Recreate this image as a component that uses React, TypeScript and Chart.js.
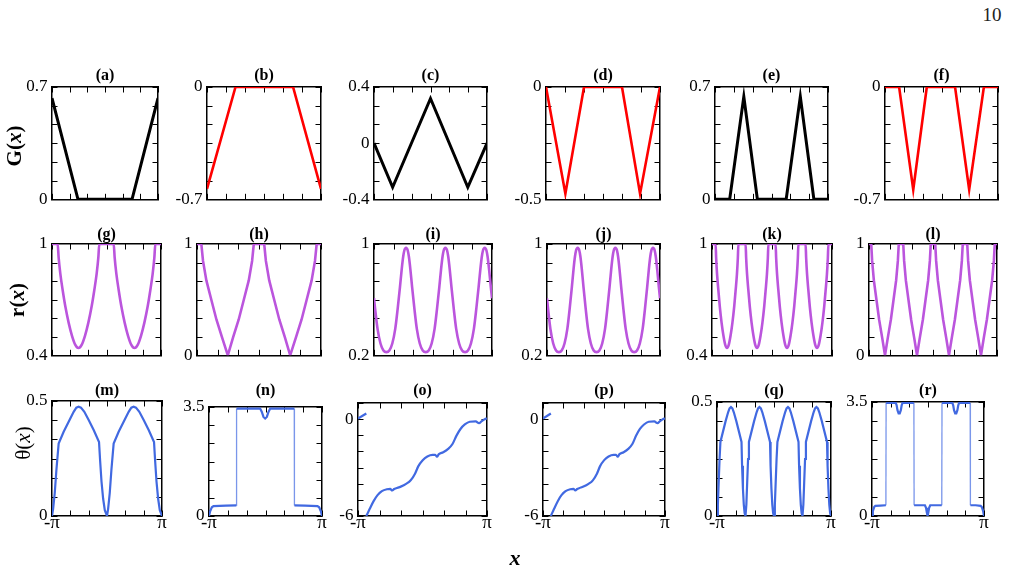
import React, { useEffect, useRef } from 'react';
import { Chart, registerables } from 'chart.js';

Chart.register(...registerables);

// ---------------- data (x in units of pi) ----------------
const xTickVals = [-1, -2 / 3, -1 / 3, 0, 1 / 3, 2 / 3, 1];
const xTickLabels = ['-π', '', '', '', '', '', 'π'];

const aX = [-1, -0.51, 0.51, 1];
const aY = [0.63, 0, 0, 0.63];
const bX = [-1, -0.5, 0.51, 1];
const bY = [-0.635, 0, 0, -0.635];
const cX = [-1, -0.67, 0, 0.66, 1];
const cY = [0, -0.314, 0.318, -0.314, 0];
const dX = [-1, -0.66, -0.333, 0.333, 0.65, 1];
const dY = [0, -0.475, 0, 0, -0.475, 0];
const eX = [-1, -0.74, -0.49, -0.25, 0.26, 0.51, 0.75, 1];
const eY = [0, 0, 0.64, 0, 0, 0.64, 0, 0];
const fX = [-1, -0.75, -0.5, -0.26, 0.24, 0.49, 0.75, 1];
const fY = [0, 0, -0.64, 0, 0, -0.64, 0, 0];

const gX = [-1, -0.896, -0.878, -0.847, -0.804, -0.755, -0.694, -0.633, -0.572, -0.514, -0.456, -0.395, -0.334, -0.273, -0.224, -0.181, -0.15, -0.132,
  0.132, 0.15, 0.181, 0.224, 0.273, 0.334, 0.395, 0.456, 0.514, 0.572, 0.633, 0.694, 0.755, 0.804, 0.847, 0.878, 0.896, 1];
const gY = [1, 1, 0.926, 0.839, 0.751, 0.663, 0.575, 0.505, 0.456, 0.439, 0.456, 0.505, 0.575, 0.663, 0.751, 0.839, 0.926, 1,
  1, 0.926, 0.839, 0.751, 0.663, 0.575, 0.505, 0.456, 0.439, 0.456, 0.505, 0.575, 0.663, 0.751, 0.839, 0.926, 1, 1];

const hX = [-1, -0.93, -0.903, -0.849, -0.768, -0.687, -0.596, -0.503, -0.418, -0.327, -0.246, -0.165, -0.111, -0.084,
  0.084, 0.111, 0.165, 0.246, 0.327, 0.418, 0.503, 0.596, 0.687, 0.768, 0.849, 0.903, 0.93, 1];
const hY = [1, 1, 0.848, 0.673, 0.497, 0.322, 0.161, 0, 0.161, 0.322, 0.497, 0.673, 0.848, 1,
  1, 0.848, 0.673, 0.497, 0.322, 0.161, 0, 0.161, 0.322, 0.497, 0.673, 0.848, 1, 1];

const iX = [-1, -0.98, -0.94, -0.89, -0.84, -0.79,
  -0.74, -0.69, -0.64, -0.6, -0.56, -0.53, -0.505, -0.485, -0.47, -0.457,
  -0.444, -0.429, -0.409, -0.384, -0.354, -0.314, -0.274, -0.224, -0.174, -0.123,
  -0.073, -0.023, 0.027, 0.067, 0.107, 0.137, 0.162, 0.182, 0.197, 0.21,
  0.223, 0.238, 0.258, 0.283, 0.313, 0.353, 0.393, 0.443, 0.493, 0.543,
  0.593, 0.643, 0.693, 0.733, 0.773, 0.803, 0.828, 0.848, 0.863, 0.877,
  0.89, 0.905, 0.925, 0.95, 0.98, 1];
const iY = [0.61, 0.53, 0.39, 0.285, 0.235, 0.223,
  0.235, 0.285, 0.39, 0.53, 0.69, 0.82, 0.91, 0.955, 0.968, 0.972,
  0.968, 0.955, 0.91, 0.82, 0.69, 0.53, 0.39, 0.285, 0.235, 0.223,
  0.235, 0.285, 0.39, 0.53, 0.69, 0.82, 0.91, 0.955, 0.968, 0.972,
  0.968, 0.955, 0.91, 0.82, 0.69, 0.53, 0.39, 0.285, 0.235, 0.223,
  0.235, 0.285, 0.39, 0.53, 0.69, 0.82, 0.91, 0.955, 0.968, 0.972,
  0.968, 0.955, 0.91, 0.82, 0.69, 0.61];
const jX = iX;
const jY = iY;

const kX = [-1,
  -0.94, -0.931, -0.916, -0.894, -0.87, -0.84, -0.809, -0.779, -0.75, -0.721, -0.691, -0.66, -0.63, -0.606, -0.584, -0.569, -0.56,
  -0.44, -0.431, -0.416, -0.394, -0.37, -0.34, -0.309, -0.279, -0.25, -0.221, -0.191, -0.16, -0.13, -0.106, -0.084, -0.069, -0.06,
  0.06, 0.069, 0.084, 0.106, 0.13, 0.16, 0.191, 0.221, 0.25, 0.279, 0.309, 0.34, 0.37, 0.394, 0.416, 0.431, 0.44,
  0.56, 0.569, 0.584, 0.606, 0.63, 0.66, 0.691, 0.721, 0.75, 0.779, 0.809, 0.84, 0.87, 0.894, 0.916, 0.931, 0.94,
  1];
const kY = [1,
  1, 0.926, 0.839, 0.751, 0.663, 0.575, 0.505, 0.456, 0.439, 0.456, 0.505, 0.575, 0.663, 0.751, 0.839, 0.926, 1,
  1, 0.926, 0.839, 0.751, 0.663, 0.575, 0.505, 0.456, 0.439, 0.456, 0.505, 0.575, 0.663, 0.751, 0.839, 0.926, 1,
  1, 0.926, 0.839, 0.751, 0.663, 0.575, 0.505, 0.456, 0.439, 0.456, 0.505, 0.575, 0.663, 0.751, 0.839, 0.926, 1,
  1, 0.926, 0.839, 0.751, 0.663, 0.575, 0.505, 0.456, 0.439, 0.456, 0.505, 0.575, 0.663, 0.751, 0.839, 0.926, 1,
  1];

const lX = [-1,
  -0.965, -0.951, -0.924, -0.883, -0.842, -0.795, -0.75, -0.705, -0.658, -0.617, -0.576, -0.549, -0.535,
  -0.465, -0.451, -0.424, -0.383, -0.342, -0.295, -0.25, -0.205, -0.158, -0.117, -0.076, -0.049, -0.035,
  0.035, 0.049, 0.076, 0.117, 0.158, 0.205, 0.25, 0.295, 0.342, 0.383, 0.424, 0.451, 0.465,
  0.535, 0.549, 0.576, 0.617, 0.658, 0.705, 0.75, 0.795, 0.842, 0.883, 0.924, 0.951, 0.965,
  1];
const lY = [1,
  1, 0.848, 0.673, 0.497, 0.322, 0.161, 0, 0.161, 0.322, 0.497, 0.673, 0.848, 1,
  1, 0.848, 0.673, 0.497, 0.322, 0.161, 0, 0.161, 0.322, 0.497, 0.673, 0.848, 1,
  1, 0.848, 0.673, 0.497, 0.322, 0.161, 0, 0.161, 0.322, 0.497, 0.673, 0.848, 1,
  1, 0.848, 0.673, 0.497, 0.322, 0.161, 0, 0.161, 0.322, 0.497, 0.673, 0.848, 1,
  1];

const mX = [-1, -0.98, -0.95, -0.92, -0.879, -0.788, -0.697, -0.606, -0.558, -0.515, -0.473, -0.412, -0.333, -0.242, -0.145, -0.125, -0.1, -0.07, -0.04, 0,
  0.02, 0.05, 0.08, 0.121, 0.212, 0.303, 0.394, 0.442, 0.485, 0.527, 0.588, 0.667, 0.758, 0.855, 0.875, 0.9, 0.93, 0.96, 1];
const mY = [0, 0.03, 0.1, 0.2, 0.315, 0.366, 0.41, 0.453, 0.471, 0.475, 0.471, 0.453, 0.417, 0.374, 0.322, 0.24, 0.15, 0.075, 0.025, 0,
  0.03, 0.1, 0.2, 0.315, 0.366, 0.41, 0.453, 0.471, 0.475, 0.471, 0.453, 0.417, 0.374, 0.322, 0.24, 0.15, 0.075, 0.025, 0];

const nX = [-1, -0.98, -0.95, -0.92, -0.7, -0.515, -0.512, -0.3, -0.095, -0.065, -0.036, -0.006, 0.024, 0.053, 0.083, 0.3, 0.509, 0.512, 0.7, 0.92, 0.95, 0.98, 1];
const nY = [0, 0.15, 0.28, 0.32, 0.33, 0.34, 3.45, 3.45, 3.45, 3.34, 3.18, 3.13, 3.18, 3.34, 3.45, 3.45, 3.45, 0.34, 0.33, 0.32, 0.28, 0.15, 0];

const oX = [-1, -0.871, -0.871, -0.871, -0.82, -0.758, -0.697, -0.63, -0.553, -0.501,
  -0.47, -0.44, -0.409, -0.337, -0.254, -0.183, -0.116, -0.064, 0.003, 0.075,
  0.157, 0.198, 0.224, 0.254, 0.321, 0.398, 0.465, 0.527, 0.589, 0.656,
  0.733, 0.825, 0.877, 0.918, 0.964, 1];
const oY = [0.04, 0.35, null, -6, -5.57, -5.08, -4.71, -4.46, -4.34, -4.32,
  -4.42, -4.33, -4.28, -4.18, -4.01, -3.79, -3.38, -2.91, -2.54, -2.31,
  -2.21, -2.21, -2.33, -2.17, -2.05, -1.84, -1.54, -1.02, -0.61, -0.33,
  -0.16, -0.14, -0.25, -0.12, 0, 0.04];
const pX = oX;
const pY = oY;

const qX = [-1, -0.985, -0.97, -0.955, -0.94, -0.895, -0.85, -0.805, -0.78, -0.755, -0.73, -0.705, -0.66, -0.615, -0.57, -0.56, -0.545, -0.53, -0.515, -0.5,
  -0.485, -0.47, -0.455, -0.44, -0.395, -0.35, -0.305, -0.28, -0.255, -0.23, -0.205, -0.16, -0.115, -0.07, -0.06, -0.045, -0.03, -0.015, 0,
  0.015, 0.03, 0.045, 0.06, 0.105, 0.15, 0.195, 0.22, 0.245, 0.27, 0.295, 0.34, 0.385, 0.43, 0.44, 0.455, 0.47, 0.485, 0.5,
  0.515, 0.53, 0.545, 0.56, 0.605, 0.65, 0.695, 0.72, 0.745, 0.77, 0.795, 0.84, 0.885, 0.93, 0.94, 0.955, 0.97, 0.985, 1];
const qY = [0, 0.05, 0.15, 0.25, 0.325, 0.37, 0.415, 0.455, 0.472, 0.478, 0.472, 0.455, 0.415, 0.37, 0.325, 0.22, 0.12, 0.05, 0.012, 0,
  0.05, 0.15, 0.25, 0.325, 0.37, 0.415, 0.455, 0.472, 0.478, 0.472, 0.455, 0.415, 0.37, 0.325, 0.22, 0.12, 0.05, 0.012, 0,
  0.05, 0.15, 0.25, 0.325, 0.37, 0.415, 0.455, 0.472, 0.478, 0.472, 0.455, 0.415, 0.37, 0.325, 0.22, 0.12, 0.05, 0.012, 0,
  0.05, 0.15, 0.25, 0.325, 0.37, 0.415, 0.455, 0.472, 0.478, 0.472, 0.455, 0.415, 0.37, 0.325, 0.22, 0.12, 0.05, 0.012, 0];

const rX = [-1, -0.985, -0.96, -0.94, -0.85, -0.752, -0.748, -0.65, -0.575, -0.56, -0.545, -0.525, -0.505, -0.485, -0.47, -0.455, -0.35, -0.252, -0.248, -0.15,
  -0.055, -0.035, -0.02, -0.008, 0.005, 0.02, 0.04, 0.15, 0.246, 0.25, 0.35, 0.435, 0.45, 0.465, 0.485, 0.505, 0.525, 0.54, 0.555, 0.65,
  0.753, 0.757, 0.85, 0.94, 0.96, 0.985, 1];
const rY = [0, 0.15, 0.28, 0.31, 0.32, 0.33, 3.47, 3.47, 3.47, 3.4, 3.25, 3.15, 3.15, 3.25, 3.4, 3.47, 3.47, 3.47, 0.33, 0.33,
  0.33, 0.25, 0.1, 0, 0.1, 0.25, 0.33, 0.33, 0.33, 3.47, 3.47, 3.47, 3.4, 3.25, 3.15, 3.15, 3.25, 3.4, 3.47, 3.47,
  3.47, 0.33, 0.33, 0.31, 0.28, 0.15, 0];

// y-axis labelled values
const yLabG1 = [0, 0.7];
const yLabG1Text = ['0', '0.7'];
const yLabG2 = [-0.7, 0];
const yLabG2Text = ['-0.7', '0'];
const yLabC = [-0.4, 0, 0.4];
const yLabCText = ['-0.4', '0', '0.4'];
const yLabD = [-0.5, 0];
const yLabDText = ['-0.5', '0'];
const yLabR4 = [0.4, 1];
const yLabR4Text = ['0.4', '1'];
const yLabR0 = [0, 1];
const yLabR0Text = ['0', '1'];
const yLabR2 = [0.2, 1];
const yLabR2Text = ['0.2', '1'];
const yLabT05 = [0, 0.5];
const yLabT05Text = ['0', '0.5'];
const yLabT35 = [0, 3.5];
const yLabT35Text = ['0', '3.5'];
const yLabT6 = [-6, 0];
const yLabT6Text = ['-6', '0'];

// ---------------- styling / layout ----------------
const SERIF = "'Liberation Serif', 'Times New Roman', serif";
const BLACK = '#000000';
const RED = '#ff0000';
const PURPLE = '#bb55dd';
const BLUE = '#4169e1';
const LM = 48;
const RM = 12;
const BM = 12;
const TITLE_SIZE = 16;
const TICK_LEN = 5.5;

type PanelDef = {
  title: string; xs: number[]; ys: (number | null)[]; color: string; lw: number;
  yMin: number; yMax: number; yDiv: number; yl: number[]; ylt: string[];
  L: number; T: number; R: number; B: number; tb: number; xl: boolean; smooth: boolean; steep?: boolean;
};

const panels: PanelDef[] = [
  { title: '(a)', xs: aX, ys: aY, color: BLACK, lw: 3, yMin: 0, yMax: 0.7, yDiv: 6, yl: yLabG1, ylt: yLabG1Text, L: 52, T: 87, R: 158, B: 202, tb: 84, xl: false, smooth: false },
  { title: '(b)', xs: bX, ys: bY, color: RED, lw: 2.6, yMin: -0.7, yMax: 0, yDiv: 6, yl: yLabG2, ylt: yLabG2Text, L: 207, T: 87, R: 321, B: 202, tb: 84, xl: false, smooth: false },
  { title: '(c)', xs: cX, ys: cY, color: BLACK, lw: 3, yMin: -0.4, yMax: 0.4, yDiv: 6, yl: yLabC, ylt: yLabCText, L: 374, T: 87, R: 487, B: 202, tb: 84, xl: false, smooth: false },
  { title: '(d)', xs: dX, ys: dY, color: RED, lw: 2.6, yMin: -0.5, yMax: 0, yDiv: 6, yl: yLabD, ylt: yLabDText, L: 546, T: 87, R: 660, B: 202, tb: 84, xl: false, smooth: false },
  { title: '(e)', xs: eX, ys: eY, color: BLACK, lw: 3, yMin: 0, yMax: 0.7, yDiv: 6, yl: yLabG1, ylt: yLabG1Text, L: 715, T: 87, R: 828, B: 202, tb: 84, xl: false, smooth: false },
  { title: '(f)', xs: fX, ys: fY, color: RED, lw: 2.6, yMin: -0.7, yMax: 0, yDiv: 6, yl: yLabG2, ylt: yLabG2Text, L: 885, T: 87, R: 998, B: 202, tb: 84, xl: false, smooth: false },

  { title: '(g)', xs: gX, ys: gY, color: PURPLE, lw: 2.6, yMin: 0.4, yMax: 1, yDiv: 6, yl: yLabR4, ylt: yLabR4Text, L: 52, T: 244, R: 161, B: 358, tb: 243, xl: false, smooth: true },
  { title: '(h)', xs: hX, ys: hY, color: PURPLE, lw: 2.6, yMin: 0, yMax: 1, yDiv: 6, yl: yLabR0, ylt: yLabR0Text, L: 197, T: 244, R: 321, B: 358, tb: 243, xl: false, smooth: false },
  { title: '(i)', xs: iX, ys: iY, color: PURPLE, lw: 2.6, yMin: 0.2, yMax: 1, yDiv: 6, yl: yLabR2, ylt: yLabR2Text, L: 374, T: 244, R: 492, B: 358, tb: 243, xl: false, smooth: true },
  { title: '(j)', xs: jX, ys: jY, color: PURPLE, lw: 2.6, yMin: 0.2, yMax: 1, yDiv: 6, yl: yLabR2, ylt: yLabR2Text, L: 547, T: 244, R: 660, B: 358, tb: 243, xl: false, smooth: true },
  { title: '(k)', xs: kX, ys: kY, color: PURPLE, lw: 2.6, yMin: 0.4, yMax: 1, yDiv: 6, yl: yLabR4, ylt: yLabR4Text, L: 712, T: 244, R: 832, B: 358, tb: 243, xl: false, smooth: true },
  { title: '(l)', xs: lX, ys: lY, color: PURPLE, lw: 2.6, yMin: 0, yMax: 1, yDiv: 6, yl: yLabR0, ylt: yLabR0Text, L: 869, T: 244, R: 997, B: 358, tb: 243, xl: false, smooth: false },

  { title: '(m)', xs: mX, ys: mY, color: BLUE, lw: 2.2, yMin: 0, yMax: 0.5, yDiv: 6, yl: yLabT05, ylt: yLabT05Text, L: 52, T: 401, R: 162, B: 516, tb: 399, xl: true, smooth: false },
  { title: '(n)', xs: nX, ys: nY, color: BLUE, lw: 2.2, yMin: 0, yMax: 3.5, yDiv: 6, yl: yLabT35, ylt: yLabT35Text, L: 209, T: 407, R: 322, B: 516, tb: 399, xl: true, smooth: false, steep: true },
  { title: '(o)', xs: oX, ys: oY, color: BLUE, lw: 2.2, yMin: -6, yMax: 1, yDiv: 7, yl: yLabT6, ylt: yLabT6Text, L: 358, T: 403, R: 487, B: 516, tb: 399, xl: true, smooth: true },
  { title: '(p)', xs: pX, ys: pY, color: BLUE, lw: 2.2, yMin: -6, yMax: 1, yDiv: 7, yl: yLabT6, ylt: yLabT6Text, L: 543, T: 403, R: 665, B: 516, tb: 399, xl: true, smooth: true },
  { title: '(q)', xs: qX, ys: qY, color: BLUE, lw: 2.2, yMin: 0, yMax: 0.5, yDiv: 6, yl: yLabT05, ylt: yLabT05Text, L: 717, T: 402, R: 831, B: 516, tb: 399, xl: true, smooth: false },
  { title: '(r)', xs: rX, ys: rY, color: BLUE, lw: 2.2, yMin: 0, yMax: 3.5, yDiv: 6, yl: yLabT35, ylt: yLabT35Text, L: 872, T: 402, R: 984, B: 516, tb: 399, xl: true, smooth: false, steep: true },
];

// inward tick marks on all four sides, placed from the library's own scales
const innerTicks = {
  id: 'innerTicks',
  beforeDatasetsDraw(chart: any) {
    const { ctx, chartArea: a, scales } = chart;
    const xs = scales.x;
    const ys = scales.y;
    ctx.save();
    ctx.strokeStyle = '#000';
    ctx.lineWidth = 1;
    ctx.beginPath();
    for (const t of xs.ticks) {
      const px = Math.round(xs.getPixelForValue(t.value)) + 0.5;
      ctx.moveTo(px, a.bottom);
      ctx.lineTo(px, a.bottom - TICK_LEN);
      ctx.moveTo(px, a.top);
      ctx.lineTo(px, a.top + TICK_LEN);
    }
    for (const t of ys.ticks) {
      const py = Math.round(ys.getPixelForValue(t.value)) + 0.5;
      ctx.moveTo(a.left, py);
      ctx.lineTo(a.left + TICK_LEN, py);
      ctx.moveTo(a.right, py);
      ctx.lineTo(a.right - TICK_LEN, py);
    }
    ctx.stroke();
    ctx.restore();
  },
};

function buildConfig(p: PanelDef): any {
  const yTicks: number[] = [];
  for (let i = 0; i <= p.yDiv; i++) yTicks.push(p.yMin + ((p.yMax - p.yMin) * i) / p.yDiv);
  const setTicks = (vals: number[]) => (axis: any) => {
    axis.ticks = vals.map((v) => ({ value: v }));
  };
  const grid = { display: true, drawOnChartArea: false, drawTicks: false, tickLength: 0 };
  const border = { display: true, color: '#000', width: 1.5 };
  const yLabel = (v: number) => {
    const k = p.yl.findIndex((l) => Math.abs(l - v) < 1e-6);
    return k >= 0 ? p.ylt[k] : '';
  };
  const isSteep = (ctx: any) =>
    Math.abs(ctx.p1.parsed.x - ctx.p0.parsed.x) < 0.01 && Math.abs(ctx.p1.parsed.y - ctx.p0.parsed.y) > 1;
  return {
    type: 'line',
    data: {
      datasets: [
        {
          data: p.xs.map((x, i) => ({ x, y: p.ys[i] })),
          borderColor: p.color,
          borderWidth: p.lw,
          pointRadius: 0,
          fill: false,
          spanGaps: false,
          tension: 0,
          cubicInterpolationMode: p.smooth ? 'monotone' : 'default',
          segment: p.steep
            ? {
                borderColor: (ctx: any) => (isSteep(ctx) ? 'rgba(65,105,225,0.7)' : undefined),
                borderWidth: (ctx: any) => (isSteep(ctx) ? 1.3 : undefined),
              }
            : undefined,
        },
      ],
    },
    options: {
      responsive: false,
      animation: false,
      devicePixelRatio: 1,
      events: [],
      layout: { autoPadding: false, padding: { left: 0, right: RM, top: 2, bottom: p.xl ? 2 : BM } },
      plugins: {
        legend: { display: false },
        tooltip: { enabled: false },
        title: {
          display: true,
          text: p.title,
          fullSize: false,
          color: '#000',
          font: { family: SERIF, size: TITLE_SIZE, weight: 'bold', lineHeight: 1 },
          padding: { top: 0, bottom: p.T - p.tb },
        },
      },
      scales: {
        x: {
          type: 'linear', position: 'bottom', min: -1, max: 1,
          afterBuildTicks: setTicks(xTickVals),
          afterFit: (s: any) => { s.height = p.xl ? 24 : 0; },
          grid, border,
          ticks: {
            display: p.xl, autoSkip: false, maxRotation: 0, minRotation: 0, padding: -2,
            font: { family: SERIF, size: 19, lineHeight: 1 }, color: '#000',
            callback: (_v: any, i: number) => xTickLabels[i],
          },
        },
        x2: {
          type: 'linear', axis: 'x', position: 'top', min: -1, max: 1,
          afterBuildTicks: setTicks(xTickVals),
          afterFit: (s: any) => { s.height = 0; },
          grid, border,
          ticks: { display: false },
        },
        y: {
          type: 'linear', position: 'left', min: p.yMin, max: p.yMax,
          afterBuildTicks: setTicks(yTicks),
          afterFit: (s: any) => { s.width = LM; },
          grid, border,
          ticks: { autoSkip: false, padding: 4.5, font: { family: SERIF, size: 17 }, color: '#000', callback: (v: any) => yLabel(Number(v)) },
        },
        y2: {
          type: 'linear', axis: 'y', position: 'right', min: p.yMin, max: p.yMax,
          afterBuildTicks: setTicks(yTicks),
          afterFit: (s: any) => { s.width = 0; },
          grid, border,
          ticks: { display: false },
        },
      },
    },
    plugins: [innerTicks],
  };
}

function Panel({ p }: { p: PanelDef }) {
  const ref = useRef<HTMLCanvasElement>(null);
  const cw = LM + (p.R - p.L) + RM;
  const ct = p.tb - TITLE_SIZE - 2;
  const ch = p.B - ct + (p.xl ? 26 : BM);
  useEffect(() => {
    if (!ref.current) return;
    const chart = new Chart(ref.current, buildConfig(p));
    return () => chart.destroy();
  }, [p]);
  return (
    <canvas
      ref={ref}
      width={cw}
      height={ch}
      style={{ position: 'absolute', left: p.L - LM, top: ct, width: cw, height: ch }}
    />
  );
}

const textAt = (cx: number, cy: number, rot: number, extra: any): any => ({
  position: 'absolute',
  left: cx,
  top: cy,
  transform: `translate(-50%, -50%) rotate(${rot}deg)`,
  whiteSpace: 'nowrap',
  fontFamily: SERIF,
  lineHeight: 1,
  color: '#000',
  ...extra,
});

export default function App() {
  return (
    <div style={{ position: 'absolute', left: 0, top: 0, width: 1009, height: 571, background: '#fff', overflow: 'hidden' }}>
      {panels.map((p) => (
        <Panel key={p.title} p={p} />
      ))}
      <div style={textAt(14, 146, -90, { fontSize: 21, fontWeight: 'bold' })}>
        G(<i>x</i>)
      </div>
      <div style={textAt(17, 300, -90, { fontSize: 21, fontWeight: 'bold' })}>
        r(<i>x</i>)
      </div>
      <div style={textAt(23, 443, -90, { fontSize: 21 })}>
        θ(<i>x</i>)
      </div>
      <div style={textAt(515, 558, 0, { fontSize: 22, fontWeight: 'bold', fontStyle: 'italic' })}>x</div>
      <div style={textAt(992, 14, 0, { fontSize: 19, color: '#222' })}>10</div>
    </div>
  );
}
